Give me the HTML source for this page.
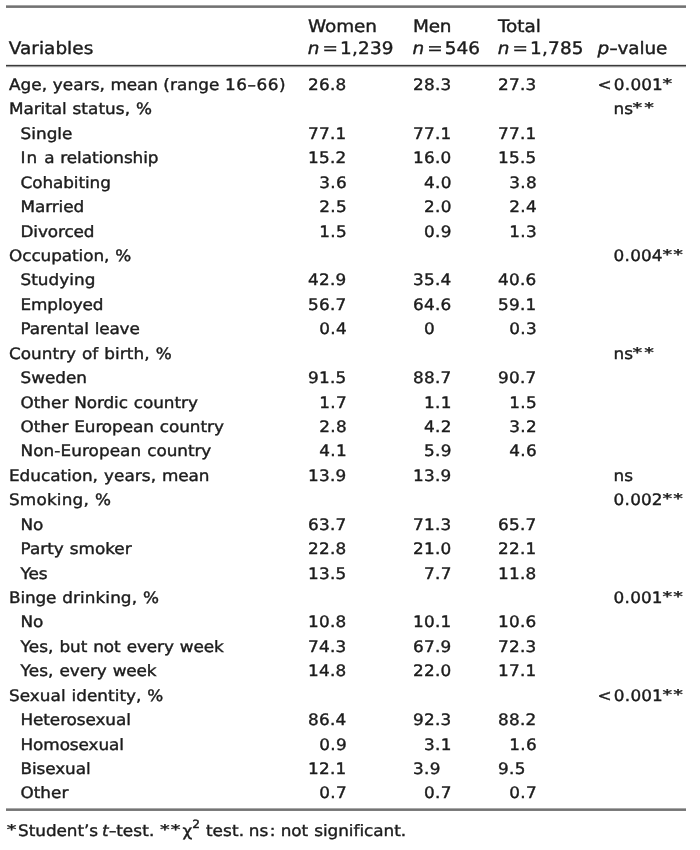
<!DOCTYPE html>
<html lang="en"><head><meta charset="utf-8"><title>Table</title>
<style>
html,body{margin:0;padding:0;background:#fff;}
body{width:700px;height:850px;position:relative;overflow:hidden;
 font-family:"DejaVu Sans", "Liberation Sans", sans-serif;font-size:15.7px;color:#1c1c1c;-webkit-text-stroke:0.4px #1c1c1c;
 text-rendering:geometricPrecision;}
.t{position:absolute;white-space:nowrap;line-height:0;height:0;word-spacing:0.53px;
 transform:scaleX(1.0732);transform-origin:0 0;}
.t i{font-style:italic;}
.h{font-size:17.2px;transform:scaleX(1.0727);}
.eq{padding:0 0.12em 0 0.16em;}
.lt{margin-right:0.12em;}
sup{font-size:0.72em;line-height:0;vertical-align:baseline;position:relative;top:-0.71em;}
.a{display:inline-block;width:0.775em;font-size:0.85em;text-align:center;position:relative;top:-2px;left:-0.8px;transform:scaleX(1.35);}
.hy{display:inline-block;width:0.454em;text-align:center;transform:scaleX(1.3);}
.rule{position:absolute;left:6px;width:680px;}
.r1{top:5px;height:3px;background:linear-gradient(to bottom,#a2a2a2 0,#a2a2a2 1px,#727272 1px,#727272 2px,#7e7e7e 2px,#7e7e7e 3px);}
.r2{top:64px;height:4px;background:linear-gradient(to bottom,#e0e0e0 0,#e0e0e0 1px,#3a3a3a 1px,#3a3a3a 2px,#9a9a9a 2px,#9a9a9a 3px,#eeeeee 3px,#eeeeee 4px);}
.r3{top:808px;height:3px;background:linear-gradient(to bottom,#a8a8a8 0,#a8a8a8 1px,#747474 1px,#747474 2px,#7c7c7c 2px,#7c7c7c 3px);}
</style></head>
<body>
<div class="rule r1"></div><div class="rule r2"></div><div class="rule r3"></div>
<span class="t h" style="left:8px;top:49px;transform:translateX(0.75px) scaleX(1.0727);"><span style="letter-spacing:0.03px">Variables</span></span>
<span class="t h" style="left:308px;top:27px;"><span style="letter-spacing:-0.09px">Women</span></span>
<span class="t h" style="left:307px;top:49px;transform:translateX(0.75px) scaleX(1.0727);"><i>n</i><span class="eq">=</span><span style="letter-spacing:0.16px">1,239</span></span>
<span class="t h" style="left:413px;top:27px;"><span style="letter-spacing:-0.23px">Men</span></span>
<span class="t h" style="left:412px;top:49px;transform:translateX(0.5px) scaleX(1.0727);"><i>n</i><span class="eq">=</span>546</span>
<span class="t h" style="left:498px;top:27px;"><span style="letter-spacing:-0.05px">Total</span></span>
<span class="t h" style="left:497px;top:49px;transform:translateX(0.75px) scaleX(1.0727);"><i>n</i><span class="eq">=</span><span style="letter-spacing:0.16px">1,785</span></span>
<span class="t h" style="left:597px;top:49px;transform:translateX(0.5px) scaleX(1.0727);"><i>p</i><span class="hy">-</span><span style="letter-spacing:-0.12px">value</span></span>
<span class="t l" style="left:9px;top:85px;word-spacing:0.2px;"><span style="letter-spacing:0.06px">Age,</span> <span style="letter-spacing:0.08px">years,</span> <span style="letter-spacing:-0.13px">mean</span> <span style="letter-spacing:0.09px">(range</span> <span style="letter-spacing:0.52px">16–66)</span></span>
<span class="t n" style="left:308px;top:85px;"><span style="letter-spacing:0.24px">26.</span>8</span>
<span class="t n" style="left:413px;top:85px;"><span style="letter-spacing:0.24px">28.</span>3</span>
<span class="t n" style="left:498px;top:85px;"><span style="letter-spacing:0.24px">27.</span>3</span>
<span class="t n" style="left:597px;top:85px;transform:translateX(0.5px) scaleX(1.0732);"><span class="lt">&lt;</span><span style="letter-spacing:0.36px">0.</span>001<span class="a">*</span></span>
<span class="t l" style="left:9px;top:109px;"><span style="letter-spacing:-0.07px">Marital</span> <span style="letter-spacing:0.08px">status,</span> <span style="letter-spacing:1.98px">%</span></span>
<span class="t n" style="left:613px;top:109px;transform:translateX(0.5px) scaleX(1.0732);">ns<span class="a">*</span><span class="a">*</span></span>
<span class="t l" style="left:20px;top:134px;transform:translateX(0.5px) scaleX(1.0732);"><span style="letter-spacing:0.03px">Single</span></span>
<span class="t n" style="left:308px;top:134px;"><span style="letter-spacing:0.24px">77.</span>1</span>
<span class="t n" style="left:413px;top:134px;"><span style="letter-spacing:0.24px">77.</span>1</span>
<span class="t n" style="left:498px;top:134px;"><span style="letter-spacing:0.24px">77.</span>1</span>
<span class="t l" style="left:20px;top:158px;transform:translateX(0.5px) scaleX(1.0732);"><span style="letter-spacing:0.98px">In</span> <span style="letter-spacing:-0.19px">a</span> <span style="letter-spacing:-0.06px">relationship</span></span>
<span class="t n" style="left:308px;top:158px;"><span style="letter-spacing:0.24px">15.</span>2</span>
<span class="t n" style="left:413px;top:158px;"><span style="letter-spacing:0.24px">16.</span>0</span>
<span class="t n" style="left:498px;top:158px;"><span style="letter-spacing:0.24px">15.</span>5</span>
<span class="t l" style="left:20px;top:183px;transform:translateX(0.5px) scaleX(1.0732);"><span style="letter-spacing:-0.07px">Cohabiting</span></span>
<span class="t n" style="left:319px;top:183px;transform:translateX(0.25px) scaleX(1.0732);"><span style="letter-spacing:0.36px">3.</span>6</span>
<span class="t n" style="left:424px;top:183px;"><span style="letter-spacing:0.36px">4.</span>0</span>
<span class="t n" style="left:509px;top:183px;transform:translateX(0.25px) scaleX(1.0732);"><span style="letter-spacing:0.36px">3.</span>8</span>
<span class="t l" style="left:20px;top:207px;transform:translateX(0.5px) scaleX(1.0732);"><span style="letter-spacing:-0.08px">Married</span></span>
<span class="t n" style="left:319px;top:207px;transform:translateX(0.25px) scaleX(1.0732);"><span style="letter-spacing:0.36px">2.</span>5</span>
<span class="t n" style="left:424px;top:207px;"><span style="letter-spacing:0.36px">2.</span>0</span>
<span class="t n" style="left:509px;top:207px;transform:translateX(0.25px) scaleX(1.0732);"><span style="letter-spacing:0.36px">2.</span>4</span>
<span class="t l" style="left:20px;top:232px;transform:translateX(0.5px) scaleX(1.0732);"><span style="letter-spacing:-0.1px">Divorced</span></span>
<span class="t n" style="left:319px;top:232px;transform:translateX(0.25px) scaleX(1.0732);"><span style="letter-spacing:0.36px">1.</span>5</span>
<span class="t n" style="left:424px;top:232px;"><span style="letter-spacing:0.36px">0.</span>9</span>
<span class="t n" style="left:509px;top:232px;transform:translateX(0.25px) scaleX(1.0732);"><span style="letter-spacing:0.36px">1.</span>3</span>
<span class="t l" style="left:9px;top:256px;"><span style="letter-spacing:-0.06px">Occupation,</span> <span style="letter-spacing:1.98px">%</span></span>
<span class="t n" style="left:613px;top:256px;transform:translateX(0.5px) scaleX(1.0732);"><span style="letter-spacing:0.36px">0.</span>004<span class="a">*</span><span class="a">*</span></span>
<span class="t l" style="left:20px;top:280px;transform:translateX(0.5px) scaleX(1.0732);"><span style="letter-spacing:0.04px">Studying</span></span>
<span class="t n" style="left:308px;top:280px;"><span style="letter-spacing:0.24px">42.</span>9</span>
<span class="t n" style="left:413px;top:280px;"><span style="letter-spacing:0.24px">35.</span>4</span>
<span class="t n" style="left:498px;top:280px;"><span style="letter-spacing:0.24px">40.</span>6</span>
<span class="t l" style="left:20px;top:305px;transform:translateX(0.5px) scaleX(1.0732);"><span style="letter-spacing:-0.1px">Employed</span></span>
<span class="t n" style="left:308px;top:305px;"><span style="letter-spacing:0.24px">56.</span>7</span>
<span class="t n" style="left:413px;top:305px;"><span style="letter-spacing:0.24px">64.</span>6</span>
<span class="t n" style="left:498px;top:305px;"><span style="letter-spacing:0.24px">59.</span>1</span>
<span class="t l" style="left:20px;top:329px;transform:translateX(0.5px) scaleX(1.0732);"><span style="letter-spacing:-0.06px">Parental</span> <span style="letter-spacing:-0.17px">leave</span></span>
<span class="t n" style="left:319px;top:329px;transform:translateX(0.25px) scaleX(1.0732);"><span style="letter-spacing:0.36px">0.</span>4</span>
<span class="t n" style="left:424px;top:329px;">0</span>
<span class="t n" style="left:509px;top:329px;transform:translateX(0.25px) scaleX(1.0732);"><span style="letter-spacing:0.36px">0.</span>3</span>
<span class="t l" style="left:9px;top:354px;"><span style="letter-spacing:0.03px">Country</span> <span style="letter-spacing:-0.04px">of</span> <span style="letter-spacing:0.12px">birth,</span> <span style="letter-spacing:1.98px">%</span></span>
<span class="t n" style="left:613px;top:354px;transform:translateX(0.5px) scaleX(1.0732);">ns<span class="a">*</span><span class="a">*</span></span>
<span class="t l" style="left:20px;top:378px;transform:translateX(0.5px) scaleX(1.0732);">Sweden</span>
<span class="t n" style="left:308px;top:378px;"><span style="letter-spacing:0.24px">91.</span>5</span>
<span class="t n" style="left:413px;top:378px;"><span style="letter-spacing:0.24px">88.</span>7</span>
<span class="t n" style="left:498px;top:378px;"><span style="letter-spacing:0.24px">90.</span>7</span>
<span class="t l" style="left:20px;top:403px;transform:translateX(0.5px) scaleX(1.0732);">Other <span style="letter-spacing:-0.09px">Nordic</span> <span style="letter-spacing:-0.04px">country</span></span>
<span class="t n" style="left:319px;top:403px;transform:translateX(0.25px) scaleX(1.0732);"><span style="letter-spacing:0.36px">1.</span>7</span>
<span class="t n" style="left:424px;top:403px;"><span style="letter-spacing:0.36px">1.</span>1</span>
<span class="t n" style="left:509px;top:403px;transform:translateX(0.25px) scaleX(1.0732);"><span style="letter-spacing:0.36px">1.</span>5</span>
<span class="t l" style="left:20px;top:427px;transform:translateX(0.5px) scaleX(1.0732);">Other <span style="letter-spacing:-0.07px">European</span> <span style="letter-spacing:-0.04px">country</span></span>
<span class="t n" style="left:319px;top:427px;transform:translateX(0.25px) scaleX(1.0732);"><span style="letter-spacing:0.36px">2.</span>8</span>
<span class="t n" style="left:424px;top:427px;"><span style="letter-spacing:0.36px">4.</span>2</span>
<span class="t n" style="left:509px;top:427px;transform:translateX(0.25px) scaleX(1.0732);"><span style="letter-spacing:0.36px">3.</span>2</span>
<span class="t l" style="left:20px;top:451px;transform:translateX(0.5px) scaleX(1.0732);"><span style="letter-spacing:0.07px">Non-European</span> <span style="letter-spacing:-0.04px">country</span></span>
<span class="t n" style="left:319px;top:451px;transform:translateX(0.25px) scaleX(1.0732);"><span style="letter-spacing:0.36px">4.</span>1</span>
<span class="t n" style="left:424px;top:451px;"><span style="letter-spacing:0.36px">5.</span>9</span>
<span class="t n" style="left:509px;top:451px;transform:translateX(0.25px) scaleX(1.0732);"><span style="letter-spacing:0.36px">4.</span>6</span>
<span class="t l" style="left:9px;top:476px;"><span style="letter-spacing:-0.02px">Education,</span> <span style="letter-spacing:0.08px">years,</span> <span style="letter-spacing:-0.13px">mean</span></span>
<span class="t n" style="left:308px;top:476px;"><span style="letter-spacing:0.24px">13.</span>9</span>
<span class="t n" style="left:413px;top:476px;"><span style="letter-spacing:0.24px">13.</span>9</span>
<span class="t n" style="left:613px;top:476px;transform:translateX(0.5px) scaleX(1.0732);">ns</span>
<span class="t l" style="left:9px;top:500px;"><span style="letter-spacing:0.17px">Smoking,</span> <span style="letter-spacing:1.98px">%</span></span>
<span class="t n" style="left:613px;top:500px;transform:translateX(0.5px) scaleX(1.0732);"><span style="letter-spacing:0.36px">0.</span>002<span class="a">*</span><span class="a">*</span></span>
<span class="t l" style="left:20px;top:525px;transform:translateX(0.5px) scaleX(1.0732);"><span style="letter-spacing:-0.04px">No</span></span>
<span class="t n" style="left:308px;top:525px;"><span style="letter-spacing:0.24px">63.</span>7</span>
<span class="t n" style="left:413px;top:525px;"><span style="letter-spacing:0.24px">71.</span>3</span>
<span class="t n" style="left:498px;top:525px;"><span style="letter-spacing:0.24px">65.</span>7</span>
<span class="t l" style="left:20px;top:549px;transform:translateX(0.5px) scaleX(1.0732);"><span style="letter-spacing:0.02px">Party</span> smoker</span>
<span class="t n" style="left:308px;top:549px;"><span style="letter-spacing:0.24px">22.</span>8</span>
<span class="t n" style="left:413px;top:549px;"><span style="letter-spacing:0.24px">21.</span>0</span>
<span class="t n" style="left:498px;top:549px;"><span style="letter-spacing:0.24px">22.</span>1</span>
<span class="t l" style="left:20px;top:574px;transform:translateX(0.5px) scaleX(1.0732);"><span style="letter-spacing:-0.08px">Yes</span></span>
<span class="t n" style="left:308px;top:574px;"><span style="letter-spacing:0.24px">13.</span>5</span>
<span class="t n" style="left:424px;top:574px;"><span style="letter-spacing:0.36px">7.</span>7</span>
<span class="t n" style="left:498px;top:574px;"><span style="letter-spacing:0.24px">11.</span>8</span>
<span class="t l" style="left:9px;top:598px;"><span style="letter-spacing:-0.11px">Binge</span> <span style="letter-spacing:0.07px">drinking,</span> <span style="letter-spacing:1.98px">%</span></span>
<span class="t n" style="left:613px;top:598px;transform:translateX(0.5px) scaleX(1.0732);"><span style="letter-spacing:0.36px">0.</span>001<span class="a">*</span><span class="a">*</span></span>
<span class="t l" style="left:20px;top:622px;transform:translateX(0.5px) scaleX(1.0732);"><span style="letter-spacing:-0.04px">No</span></span>
<span class="t n" style="left:308px;top:622px;"><span style="letter-spacing:0.24px">10.</span>8</span>
<span class="t n" style="left:413px;top:622px;"><span style="letter-spacing:0.24px">10.</span>1</span>
<span class="t n" style="left:498px;top:622px;"><span style="letter-spacing:0.24px">10.</span>6</span>
<span class="t l" style="left:20px;top:647px;transform:translateX(0.5px) scaleX(1.0732);"><span style="letter-spacing:0.12px">Yes,</span> <span style="letter-spacing:-0.06px">but</span> <span style="letter-spacing:-0.02px">not</span> <span style="letter-spacing:-0.07px">every</span> <span style="letter-spacing:-0.1px">week</span></span>
<span class="t n" style="left:308px;top:647px;"><span style="letter-spacing:0.24px">74.</span>3</span>
<span class="t n" style="left:413px;top:647px;"><span style="letter-spacing:0.24px">67.</span>9</span>
<span class="t n" style="left:498px;top:647px;"><span style="letter-spacing:0.24px">72.</span>3</span>
<span class="t l" style="left:20px;top:671px;transform:translateX(0.5px) scaleX(1.0732);"><span style="letter-spacing:0.12px">Yes,</span> <span style="letter-spacing:-0.07px">every</span> <span style="letter-spacing:-0.1px">week</span></span>
<span class="t n" style="left:308px;top:671px;"><span style="letter-spacing:0.24px">14.</span>8</span>
<span class="t n" style="left:413px;top:671px;"><span style="letter-spacing:0.24px">22.</span>0</span>
<span class="t n" style="left:498px;top:671px;"><span style="letter-spacing:0.24px">17.</span>1</span>
<span class="t l" style="left:9px;top:696px;"><span style="letter-spacing:0.04px">Sexual</span> <span style="letter-spacing:0.02px">identity,</span> <span style="letter-spacing:1.98px">%</span></span>
<span class="t n" style="left:597px;top:696px;transform:translateX(0.5px) scaleX(1.0732);"><span class="lt">&lt;</span><span style="letter-spacing:0.36px">0.</span>001<span class="a">*</span><span class="a">*</span></span>
<span class="t l" style="left:20px;top:720px;transform:translateX(0.5px) scaleX(1.0732);"><span style="letter-spacing:-0.08px">Heterosexual</span></span>
<span class="t n" style="left:308px;top:720px;"><span style="letter-spacing:0.24px">86.</span>4</span>
<span class="t n" style="left:413px;top:720px;"><span style="letter-spacing:0.24px">92.</span>3</span>
<span class="t n" style="left:498px;top:720px;"><span style="letter-spacing:0.24px">88.</span>2</span>
<span class="t l" style="left:20px;top:745px;transform:translateX(0.5px) scaleX(1.0732);"><span style="letter-spacing:-0.07px">Homosexual</span></span>
<span class="t n" style="left:319px;top:745px;transform:translateX(0.25px) scaleX(1.0732);"><span style="letter-spacing:0.36px">0.</span>9</span>
<span class="t n" style="left:424px;top:745px;"><span style="letter-spacing:0.36px">3.</span>1</span>
<span class="t n" style="left:509px;top:745px;transform:translateX(0.25px) scaleX(1.0732);"><span style="letter-spacing:0.36px">1.</span>6</span>
<span class="t l" style="left:20px;top:769px;transform:translateX(0.5px) scaleX(1.0732);"><span style="letter-spacing:-0.08px">Bisexual</span></span>
<span class="t n" style="left:308px;top:769px;"><span style="letter-spacing:0.24px">12.</span>1</span>
<span class="t n" style="left:413px;top:769px;"><span style="letter-spacing:0.36px">3.</span>9</span>
<span class="t n" style="left:498px;top:769px;"><span style="letter-spacing:0.36px">9.</span>5</span>
<span class="t l" style="left:20px;top:793px;transform:translateX(0.5px) scaleX(1.0732);">Other</span>
<span class="t n" style="left:319px;top:793px;transform:translateX(0.25px) scaleX(1.0732);"><span style="letter-spacing:0.36px">0.</span>7</span>
<span class="t n" style="left:424px;top:793px;"><span style="letter-spacing:0.36px">0.</span>7</span>
<span class="t n" style="left:509px;top:793px;transform:translateX(0.25px) scaleX(1.0732);"><span style="letter-spacing:0.36px">0.</span>7</span>
<span class="t f" style="left:7px;top:831px;"><span class="a">*</span><span style="letter-spacing:-0.05px">Student’s</span> <i style="margin-left:-1.9px">t</i><span class="hy">-</span><span style="letter-spacing:0.1px">test.</span> <span class="a">*</span><span class="a">*</span>χ<sup>2</sup> <span style="letter-spacing:0.1px">test.</span> <span style="margin-left:-1.1px">ns<span style="margin:0 -1.3px 0 1.3px">:</span></span> <span style="margin-left:0.7px"><span style="letter-spacing:-0.02px">not</span></span> <span style="letter-spacing:-0.02px">significant.</span></span>
</body></html>
